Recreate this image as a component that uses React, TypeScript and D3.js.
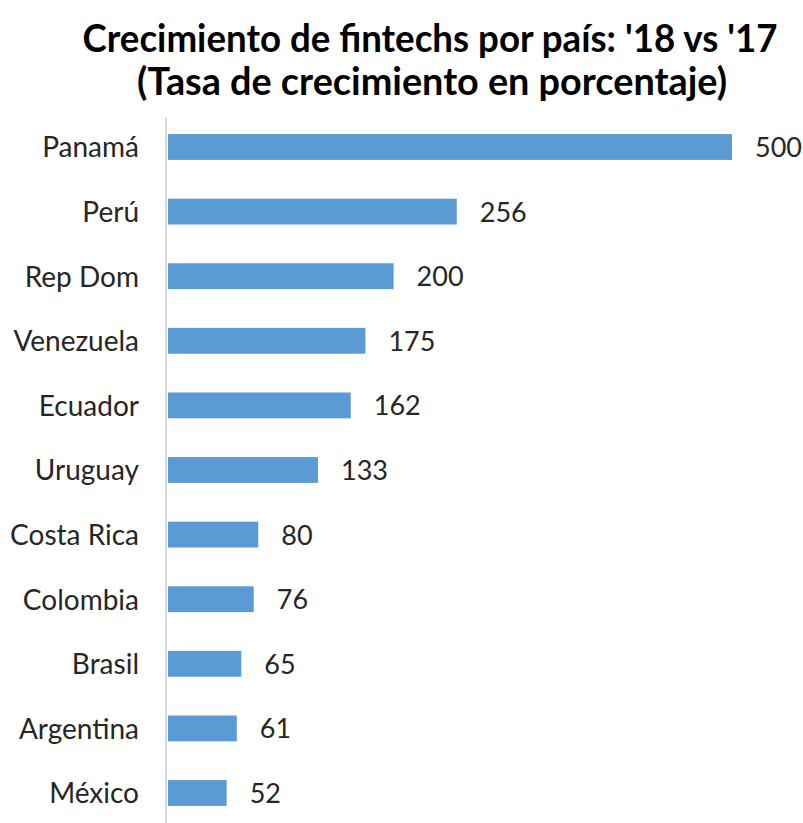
import * as d3 from "d3";

const categories = ["Panamá", "Perú", "Rep Dom", "Venezuela", "Ecuador", "Uruguay", "Costa Rica", "Colombia", "Brasil", "Argentina", "México"];
const values = [500, 256, 200, 175, 162, 133, 80, 76, 65, 61, 52];
const titleLines = ["Crecimiento de fintechs por país: '18 vs '17", "(Tasa de crecimiento en porcentaje)"];

const width = 803;
const height = 823;
const left = 168;

const App = () => {
  const x = d3.scaleLinear().domain([0, 500]).range([left, 732]);
  const y = d3.scaleBand<string>()
    .domain(categories)
    .range([114.7, 825.3])
    .paddingInner(0.6)
    .paddingOuter(0.3);

  const font = "Lato, 'Open Sans', sans-serif";

  return (
    <svg
      width={width}
      height={height}
      viewBox={`0 0 ${width} ${height}`}
      style={{ position: "absolute", left: 0, top: 0, background: "#fff" }}
    >
      {/* title glyphs look tall and narrow in the original, so stretch vertically */}
      <g transform="translate(430,52) scale(1,1.3)">
        <text x={0} y={0} textAnchor="middle" fontFamily={font} fontWeight="bold" fontSize={30}
          textLength={695} lengthAdjust="spacingAndGlyphs" fill="#000">{titleLines[0]}</text>
      </g>
      <g transform="translate(432,95) scale(1,1.3)">
        <text x={0} y={0} textAnchor="middle" fontFamily={font} fontWeight="bold" fontSize={30}
          textLength={590} lengthAdjust="spacingAndGlyphs" fill="#000">{titleLines[1]}</text>
      </g>

      {categories.map((c, i) => (
        <g key={c}>
          <rect x={x(0)} y={y(c)} width={x(values[i]) - x(0)} height={y.bandwidth()} fill="#5b9bd5" />
          <text x={139} y={y(c)! + y.bandwidth() / 2} dy="0.37em" textAnchor="end"
            fontFamily={font} fontSize={28} fill="#262626">{c}</text>
          <text x={x(values[i]) + 23} y={y(c)! + y.bandwidth() / 2} dy="0.37em"
            fontFamily={font} fontSize={27} fill="#262626">{values[i]}</text>
        </g>
      ))}

      <line x1={166} x2={166} y1={118} y2={height} stroke="#d9d9d9" strokeWidth={2} />
    </svg>
  );
};

export default App;
